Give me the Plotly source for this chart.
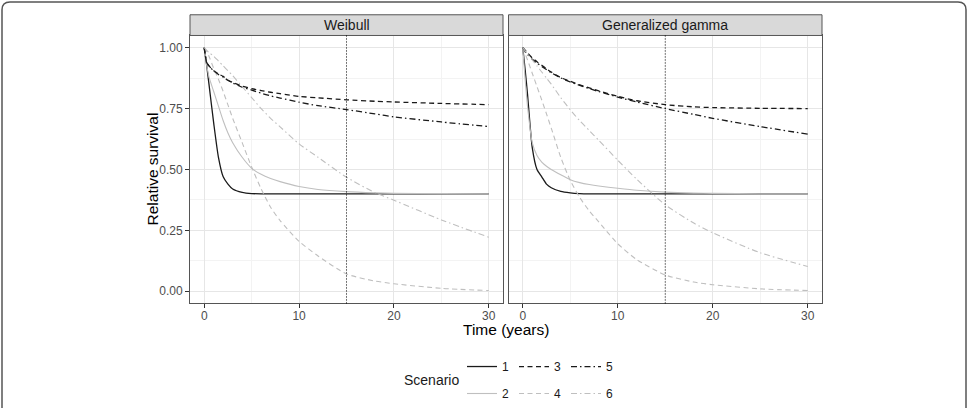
import plotly.graph_objects as go

# ---------------- data ----------------
TIME = [0, 0.25, 0.5, 1, 1.5, 2, 2.5, 3, 4, 5, 6, 7, 8, 10, 12, 15, 18, 20, 25, 30]

# Weibull panel
W_S1 = [1.0, 0.93, 0.85, 0.69, 0.55, 0.47, 0.44, 0.42, 0.406, 0.401, 0.40, 0.40, 0.40, 0.40, 0.40, 0.40, 0.40, 0.40, 0.40, 0.40]
W_S2 = [1.0, 0.93, 0.88, 0.82, 0.76, 0.70, 0.65, 0.61, 0.55, 0.505, 0.48, 0.463, 0.45, 0.43, 0.418, 0.409, 0.404, 0.402, 0.401, 0.40]
W_S3 = [1.0, 0.94, 0.925, 0.905, 0.892, 0.882, 0.866, 0.857, 0.842, 0.832, 0.824, 0.817, 0.811, 0.80, 0.794, 0.786, 0.780, 0.777, 0.771, 0.766]
W_S4 = [1.0, 0.985, 0.965, 0.915, 0.87, 0.82, 0.765, 0.71, 0.61, 0.51, 0.42, 0.345, 0.29, 0.205, 0.145, 0.071, 0.042, 0.031, 0.012, 0.003]
W_S5 = [1.0, 0.94, 0.925, 0.905, 0.89, 0.879, 0.866, 0.855, 0.838, 0.826, 0.813, 0.802, 0.793, 0.776, 0.762, 0.746, 0.728, 0.716, 0.695, 0.676]
W_S6 = [1.0, 0.99, 0.98, 0.965, 0.945, 0.925, 0.905, 0.885, 0.84, 0.795, 0.75, 0.71, 0.675, 0.605, 0.55, 0.468, 0.405, 0.374, 0.293, 0.222]

# Generalized gamma panel
G_S1 = [1.0, 0.91, 0.81, 0.59, 0.50, 0.47, 0.44, 0.425, 0.41, 0.404, 0.401, 0.40, 0.40, 0.40, 0.40, 0.40, 0.40, 0.40, 0.40, 0.40]
G_S2 = [1.0, 0.87, 0.76, 0.61, 0.557, 0.53, 0.513, 0.5, 0.478, 0.458, 0.446, 0.438, 0.432, 0.423, 0.415, 0.407, 0.403, 0.402, 0.40, 0.40]
G_S3 = [1.0, 0.99, 0.978, 0.958, 0.942, 0.928, 0.913, 0.90, 0.877, 0.862, 0.847, 0.835, 0.823, 0.80, 0.782, 0.766, 0.757, 0.754, 0.751, 0.75]
G_S4 = [1.0, 0.975, 0.95, 0.895, 0.84, 0.785, 0.728, 0.67, 0.55, 0.455, 0.385, 0.33, 0.285, 0.195, 0.13, 0.067, 0.038, 0.027, 0.01, 0.003]
G_S5 = [1.0, 0.985, 0.972, 0.952, 0.937, 0.923, 0.91, 0.897, 0.876, 0.859, 0.845, 0.832, 0.82, 0.797, 0.777, 0.75, 0.726, 0.71, 0.676, 0.645]
G_S6 = [1.0, 0.987, 0.975, 0.95, 0.925, 0.90, 0.875, 0.85, 0.795, 0.745, 0.70, 0.66, 0.62, 0.538, 0.46, 0.355, 0.28, 0.24, 0.158, 0.102]

SCENARIOS = ["1", "2", "3", "4", "5", "6"]
PANELS = ["Weibull", "Generalized gamma"]
CUTOFF = 15
X_TICKS = [0, 10, 20, 30]
Y_TICKS = [0, 0.25, 0.5, 0.75, 1.0]
Y_TICK_LABELS = ["0.00", "0.25", "0.50", "0.75", "1.00"]

# ---------------- styling ----------------
W, H = 968, 408
FONT = "Liberation Sans, Arial, Helvetica, sans-serif"
DARK = "#1a1a1a"
LIGHT = "#bfbfbf"
STYLE = {
    "1": dict(color=DARK, dash="solid", width=1.3),
    "2": dict(color=LIGHT, dash="solid", width=1.1),
    "3": dict(color=DARK, dash="5px,3.5px", width=1.3),
    "4": dict(color=LIGHT, dash="5px,3.5px", width=1.1),
    "5": dict(color=DARK, dash="6px,3px,1.5px,3px", width=1.3),
    "6": dict(color=LIGHT, dash="6px,3px,1.5px,3px", width=1.1),
}

def px_x(p):
    return p / W

def px_y(p):
    return 1 - p / H

fig = go.Figure()

panel_data = [
    [W_S1, W_S2, W_S3, W_S4, W_S5, W_S6],
    [G_S1, G_S2, G_S3, G_S4, G_S5, G_S6],
]
axis_ids = [("x", "y"), ("x2", "y2")]

for pi, series in enumerate(panel_data):
    xa, ya = axis_ids[pi]
    for sc, vals in zip(SCENARIOS, series):
        st = STYLE[sc]
        fig.add_trace(go.Scatter(
            x=TIME, y=vals, mode="lines", name=sc,
            xaxis=xa, yaxis=ya,
            line=dict(color=st["color"], dash=st["dash"], width=st["width"],
                      shape="spline", smoothing=0.6),
            showlegend=(pi == 0),
            legend=("legend" if sc in ("1", "3", "5") else "legend2"),
            hoverinfo="skip",
        ))

grid_major = "#e6e6e6"
grid_minor = "#f3f3f3"
axis_common = dict(
    showgrid=True, gridcolor=grid_major, gridwidth=1,
    zeroline=False, showline=True, mirror=True, linecolor="#555555", linewidth=1,
    ticklen=4, tickwidth=1, tickcolor="#333333",
    tickfont=dict(family=FONT, size=12, color="#4d4d4d"),
)

x_dom1 = [px_x(190), px_x(503)]
x_dom2 = [px_x(508.5), px_x(822)]
y_dom = [px_y(308), px_y(36)]

def minor(dt):
    return dict(dtick=dt, tick0=0, showgrid=True, gridcolor=grid_minor, gridwidth=0.6, ticks="")

legend_common = dict(orientation="h", xanchor="left", yanchor="middle",
                     font=dict(family=FONT, size=12, color="#1a1a1a"), bgcolor="rgba(0,0,0,0)",
                     itemwidth=30, traceorder="normal", tracegroupgap=0)

fig.update_layout(
    width=W, height=H, autosize=False,
    margin=dict(l=0, r=0, t=0, b=0),
    paper_bgcolor="white", plot_bgcolor="white",
    font=dict(family=FONT, color="#1a1a1a"),
    xaxis=dict(domain=x_dom1, range=[-1.5, 31.5], tickvals=X_TICKS, anchor="y",
               ticks="outside", ticklabelstandoff=-3, minor=minor(5), **axis_common),
    xaxis2=dict(domain=x_dom2, range=[-1.5, 31.5], tickvals=X_TICKS, anchor="y2",
                ticks="outside", ticklabelstandoff=-3, minor=minor(5), **axis_common),
    yaxis=dict(domain=y_dom, range=[-0.05, 1.05], tickvals=Y_TICKS, ticktext=Y_TICK_LABELS,
               anchor="x", ticks="outside", minor=minor(0.125), **axis_common),
    yaxis2=dict(domain=y_dom, range=[-0.05, 1.05], tickvals=Y_TICKS, showticklabels=False,
                anchor="x2", ticks="", minor=minor(0.125), **axis_common),
    legend=dict(x=px_x(462), y=px_y(372), **legend_common),
    legend2=dict(x=px_x(462), y=px_y(399.5), **legend_common),
)

shapes = []
annotations = []
for pi, name in enumerate(PANELS):
    xa = "x" if pi == 0 else "x2"
    ya = "y" if pi == 0 else "y2"
    # strip
    shapes.append(dict(type="rect", xref=f"{xa} domain", yref="paper",
                       x0=0, x1=1, y0=px_y(36), y1=px_y(15),
                       fillcolor="#d9d9d9", line=dict(color="#555555", width=1), layer="above"))
    annotations.append(dict(text=name, xref=f"{xa} domain", yref="paper", x=0.5, y=px_y(25.5),
                            showarrow=False, xanchor="center", yanchor="middle",
                            font=dict(family=FONT, size=14, color="#1a1a1a")))
    # vertical cutoff line
    shapes.append(dict(type="line", xref=xa, yref=f"{ya} domain",
                       x0=CUTOFF, x1=CUTOFF, y0=0, y1=1,
                       line=dict(color="#000000", width=1, dash="1px,2px"), layer="above"))

# axis titles
annotations.append(dict(text="Relative survival", xref="paper", yref="paper",
                        x=px_x(152), y=px_y(172), textangle=-90, showarrow=False,
                        xanchor="center", yanchor="middle",
                        font=dict(family=FONT, size=15.5, color="#000000")))
annotations.append(dict(text="Time (years)", xref="paper", yref="paper",
                        x=px_x(506), y=px_y(334), showarrow=False,
                        xanchor="center", yanchor="middle",
                        font=dict(family=FONT, size=15.5, color="#000000")))
annotations.append(dict(text="Scenario", xref="paper", yref="paper",
                        x=px_x(431), y=px_y(385.5), showarrow=False,
                        xanchor="center", yanchor="middle",
                        font=dict(family=FONT, size=14, color="#1a1a1a")))

# outer rounded frame
r = 8
x0, x1, yt, yb = 2, 966, 2, 430
path = (f"M {px_x(x0)},{px_y(yb)} L {px_x(x0)},{px_y(yt + r)} "
        f"Q {px_x(x0)},{px_y(yt)} {px_x(x0 + r)},{px_y(yt)} "
        f"L {px_x(x1 - r)},{px_y(yt)} Q {px_x(x1)},{px_y(yt)} {px_x(x1)},{px_y(yt + r)} "
        f"L {px_x(x1)},{px_y(yb)}")
shapes.append(dict(type="path", xref="paper", yref="paper", path=path,
                   line=dict(color="#555555", width=1.5)))

fig.update_layout(shapes=shapes, annotations=annotations)

fig.write_html("out.html")
